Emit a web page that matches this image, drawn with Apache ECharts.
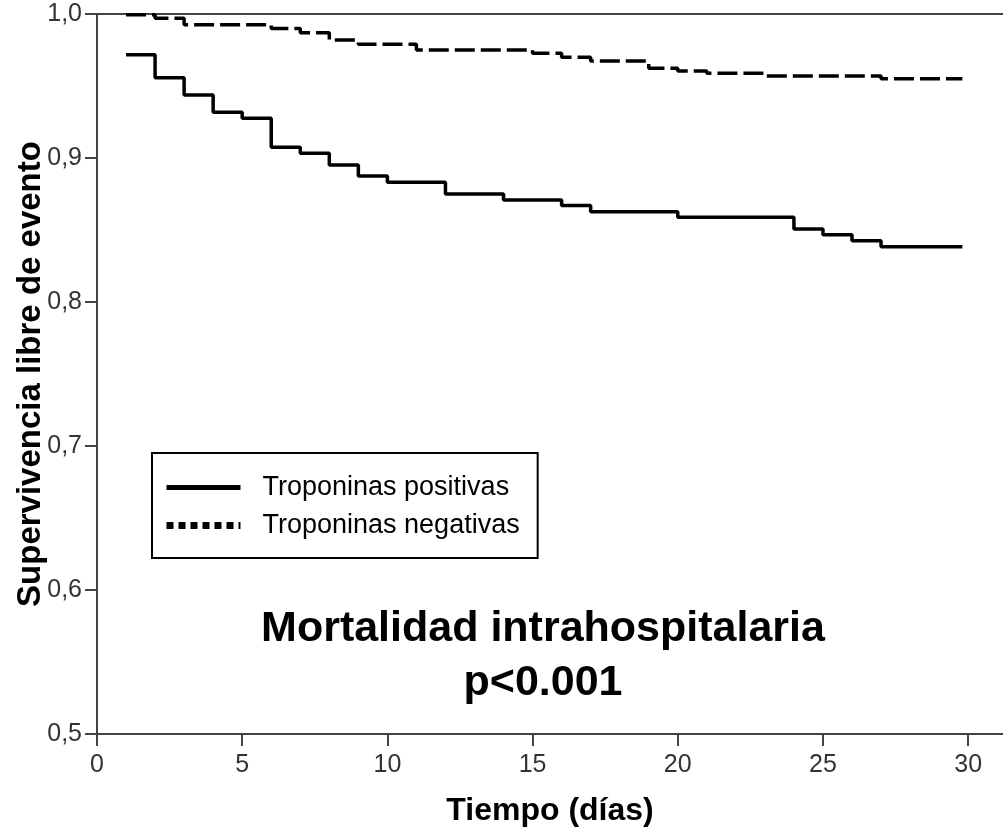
<!DOCTYPE html>
<html>
<head>
<meta charset="utf-8">
<script src="https://cdn.jsdelivr.net/npm/echarts@6/dist/echarts.min.js"></script>
<style>html,body{margin:0;padding:0;background:#fff}#c{width:1003px;height:834px}</style>
</head>
<body>
<div id="c"></div>
<script>
// Data
const posTimes = [1, 2, 3, 4, 5, 6, 7, 8, 9, 10, 12, 14, 16, 17, 20, 24, 25, 26, 27, 29.8];
const posValues = [0.9717, 0.9558, 0.9437, 0.9317, 0.9276, 0.9074, 0.9033, 0.8951, 0.8875, 0.8831, 0.875, 0.8708, 0.867, 0.8627, 0.8588, 0.8507, 0.8467, 0.8426, 0.8384, 0.8384];
const negTimes = [1, 2, 3, 6, 7, 8, 9, 11, 15, 16, 17, 19, 20, 21, 23, 27, 29.8];
const negValues = [0.9995, 0.997, 0.9926, 0.990, 0.987, 0.982, 0.979, 0.975, 0.9727, 0.970, 0.9674, 0.9623, 0.9604, 0.9588, 0.957, 0.955, 0.955];
const xTicks = [0, 5, 10, 15, 20, 25, 30];
const seriesNames = ['Troponinas positivas', 'Troponinas negativas'];
const titleLines = ['Mortalidad intrahospitalaria', 'p<0.001'];
const xName = 'Tiempo (días)';
const yName = 'Supervivencia libre de evento';

const FONT = 'Liberation Sans, Arial, sans-serif';
const zip = (t, v) => t.map((x, i) => [x, v[i]]);

const chart = echarts.init(document.getElementById('c'), null, {renderer: 'canvas'});
chart.setOption({
  animation: false,
  backgroundColor: '#fff',
  grid: {left: 97, right: 0, top: 14, bottom: 100, containLabel: false, outerBoundsMode: 'none'},
  title: {
    text: titleLines.join('\n'),
    left: 543, top: 602, textAlign: 'center', padding: 0,
    textStyle: {fontFamily: FONT, fontSize: 43, fontWeight: 'bold', color: '#000', lineHeight: 54}
  },
  legend: {
    show: true,
    orient: 'vertical', left: 152, top: 453,
    padding: [21, 18, 19, 11],
    itemGap: 11, itemWidth: 74, itemHeight: 30,
    borderColor: '#000', borderWidth: 2, backgroundColor: '#fff',
    selectedMode: false,
    formatter: '{t|{name}}',
    textStyle: {fontFamily: FONT, fontSize: 27, color: '#000',
      rich: {t: {fontFamily: FONT, fontSize: 27, color: '#000', lineHeight: 30, padding: [0, 0, 0, 17]}}},
    data: [
      {name: seriesNames[0], lineStyle: {width: 5, type: 'solid', color: '#000'},
       itemStyle: {color: 'transparent', borderWidth: 0, opacity: 0}},
      {name: seriesNames[1], lineStyle: {width: 7, type: [7, 5], color: '#000'},
       itemStyle: {color: 'transparent', borderWidth: 0, opacity: 0}}
    ]
  },
  xAxis: [{
    type: 'value', min: 0, max: 31.2,
    name: xName, nameLocation: 'middle', nameGap: 61, nameMoveOverlap: false,
    nameTextStyle: {fontFamily: FONT, fontSize: 32, fontWeight: 'bold', color: '#000'},
    axisLine: {show: true, lineStyle: {color: '#444', width: 2}},
    axisTick: {show: true, length: 12, customValues: xTicks, lineStyle: {color: '#444', width: 2}},
    axisLabel: {customValues: xTicks, margin: 19, fontFamily: FONT, fontSize: 25, color: '#333'},
    splitLine: {show: false}
  }, {
    type: 'value', min: 0, max: 31.2, position: 'top',
    axisLine: {show: true, lineStyle: {color: '#444', width: 2}},
    axisTick: {show: false}, axisLabel: {show: false}, splitLine: {show: false}
  }],
  yAxis: {
    type: 'value', min: 0.5, max: 1.0, interval: 0.1,
    name: yName, nameLocation: 'middle', nameGap: 50, nameRotate: 90, nameMoveOverlap: false,
    nameTextStyle: {fontFamily: FONT, fontSize: 33, fontWeight: 'bold', color: '#000'},
    axisLine: {show: true, lineStyle: {color: '#444', width: 2}},
    axisTick: {show: true, length: 12, lineStyle: {color: '#444', width: 2}},
    axisLabel: {margin: 15, fontFamily: FONT, fontSize: 25, color: '#333', padding: [6, 0, 0, 0],
      formatter: v => v.toFixed(1).replace('.', ',')},
    splitLine: {show: false}
  },
  series: [{
    name: seriesNames[0], type: 'line', step: 'end', showSymbol: false, symbol: 'none',
    data: zip(posTimes, posValues),
    lineStyle: {color: '#000', width: 3.5, type: 'solid'},
    itemStyle: {color: '#000'}
  }, {
    name: seriesNames[1], type: 'line', step: 'end', showSymbol: false, symbol: 'none',
    data: zip(negTimes, negValues),
    lineStyle: {color: '#000', width: 3.5, type: [20, 6]},
    itemStyle: {color: '#000'}
  }]
});
</script>
</body>
</html>
